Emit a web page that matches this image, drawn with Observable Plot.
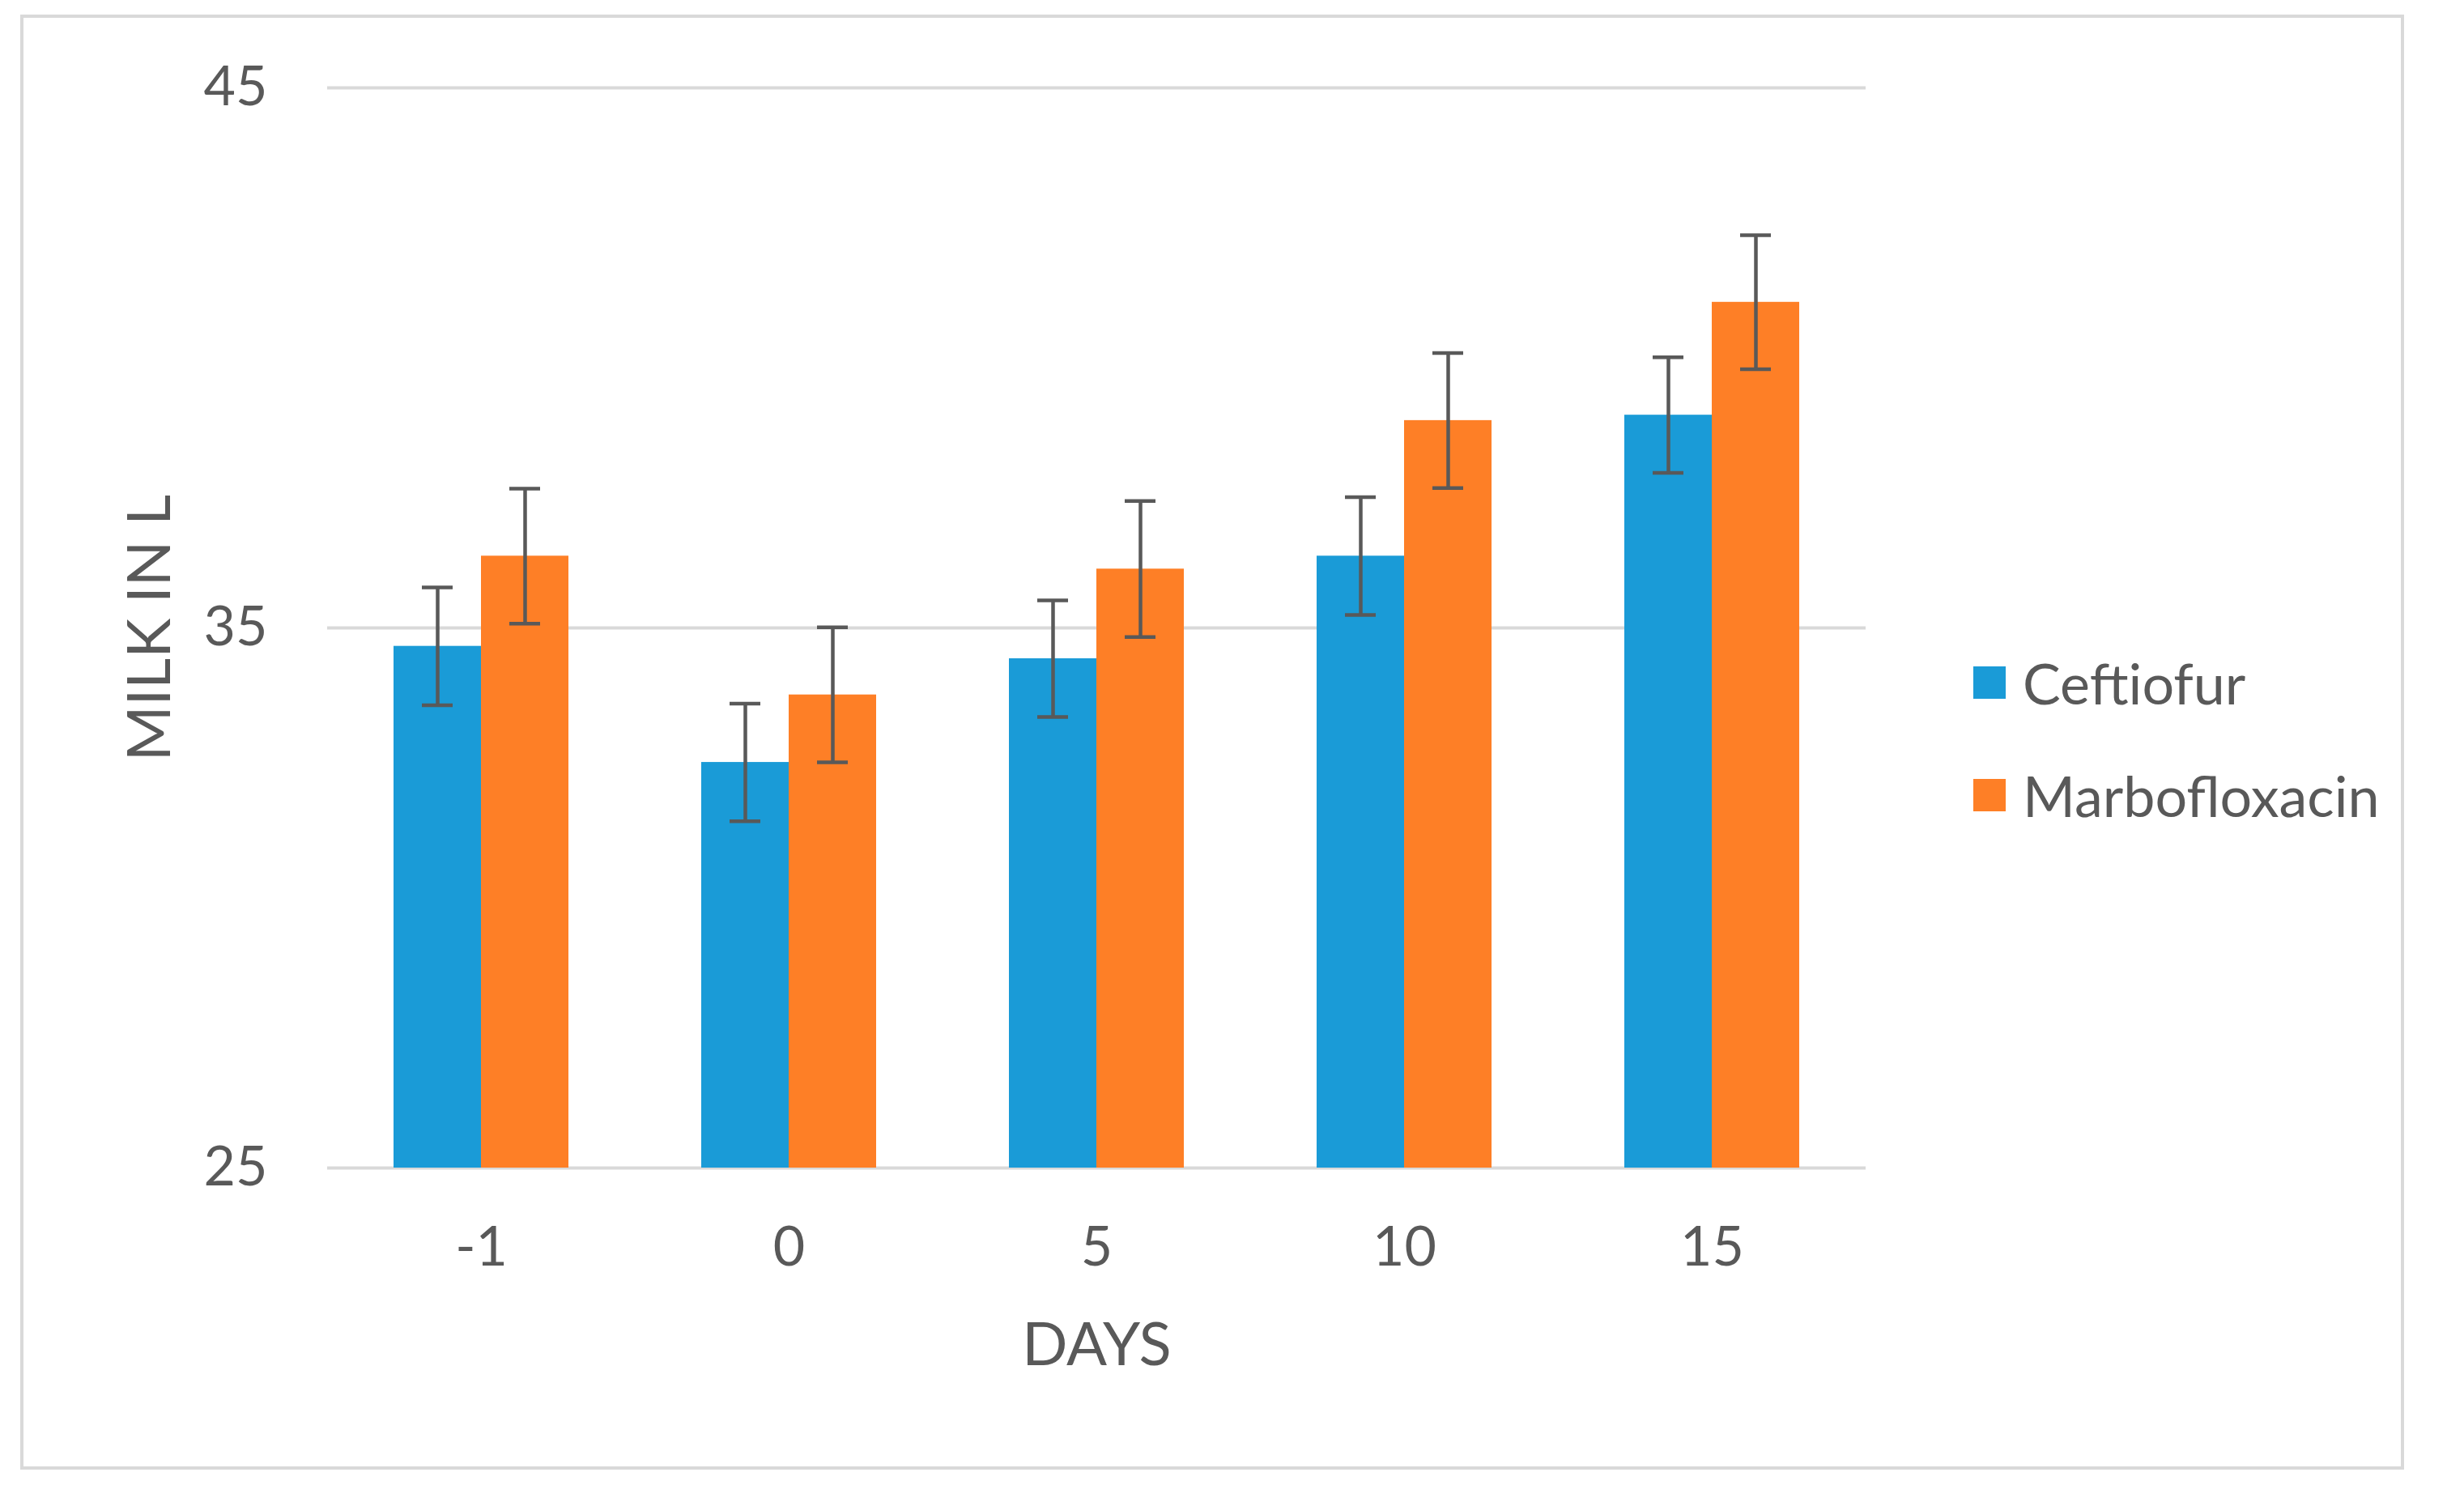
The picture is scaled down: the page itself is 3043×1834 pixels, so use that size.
<!DOCTYPE html>
<html>
<head>
<meta charset="utf-8">
<script src="https://cdn.jsdelivr.net/npm/d3@7"></script>
<script src="https://cdn.jsdelivr.net/npm/@observablehq/plot@0.6"></script>
<style>
  html, body { margin: 0; padding: 0; background: #fff; }
  body { width: 3043px; height: 1834px; position: relative; overflow: hidden; font-family: Lato, "Open Sans", sans-serif; }
  #frame { position: absolute; left: 25px; top: 18px; width: 2936px; height: 1789px; border: 4px solid #d9d9d9; box-sizing: content-box; }
  #chart { position: absolute; left: 112px; top: 0px; }
  #legend { position: absolute; left: 2437px; top: 0; color: #595959; font-size: 70px; }
  .item { position: absolute; left: 0; display: flex; align-items: center; white-space: nowrap; height: 80px; }
  .sw { width: 40px; height: 40px; margin-right: 21px; }
  g[aria-label="fx-axis label"], g[aria-label="y-axis label"] { font-size: 74px; }
</style>
</head>
<body>
<div id="frame"></div>
<div id="chart"></div>
<div id="legend"></div>
<script>
const days = ["-1", "0", "5", "10", "15"];
const series = ["Ceftiofur", "Marbofloxacin"];
const ceftiofurMean = [34.66, 32.51, 34.43, 36.33, 38.94];
const marbofloxacinMean = [36.33, 33.76, 36.09, 38.84, 41.03];
const ceftiofurSE = [1.09, 1.09, 1.08, 1.09, 1.07];
const marbofloxacinSE = [1.25, 1.25, 1.26, 1.25, 1.24];
const yTicks = [25, 35, 45];
const yDomain = [25, 45];
const colors = ["#1A9BD7", "#FE7F26"];

const data = [];
days.forEach((d, i) => {
  data.push({day: d, series: series[0], mean: ceftiofurMean[i], se: ceftiofurSE[i]});
  data.push({day: d, series: series[1], mean: marbofloxacinMean[i], se: marbofloxacinSE[i]});
});

const chart = Plot.plot({
  width: 2288,
  height: 1728,
  marginLeft: 290,
  marginRight: 94,
  marginTop: 108,
  marginBottom: 286,
  style: {fontFamily: "Lato, 'Open Sans', sans-serif", fontSize: "68px", color: "#595959", background: "transparent"},
  fx: {domain: days, padding: 0, axis: "bottom", tickSize: 0, tickPadding: 72, label: "DAYS", labelAnchor: "center", labelOffset: 243},
  x: {domain: series, paddingInner: 0, paddingOuter: 0.756, axis: null},
  y: {domain: yDomain, ticks: yTicks, tickSize: 0, tickPadding: 74, label: "MILK IN L", labelAnchor: "center", labelArrow: false, labelOffset: 247},
  color: {domain: series, range: colors},
  marks: [
    Plot.ruleY(yTicks, {stroke: "#d9d9d9", strokeWidth: 4}),
    Plot.barY(data, {fx: "day", x: "series", y1: () => yDomain[0], y2: "mean", fill: "series"}),
    Plot.ruleX(data, {fx: "day", x: "series", y1: d => d.mean - d.se, y2: d => d.mean + d.se, stroke: "#595959", strokeWidth: 4.5}),
    Plot.tickY(data, {fx: "day", x: "series", y: d => d.mean - d.se, stroke: "#595959", strokeWidth: 4.5, insetLeft: 35, insetRight: 35}),
    Plot.tickY(data, {fx: "day", x: "series", y: d => d.mean + d.se, stroke: "#595959", strokeWidth: 4.5, insetLeft: 35, insetRight: 35})
  ]
});
document.getElementById("chart").appendChild(chart);

const legend = document.getElementById("legend");
const rowCenters = [843, 982];
series.forEach((s, i) => {
  const item = document.createElement("div");
  item.className = "item";
  item.style.top = (rowCenters[i] - 40) + "px";
  const sw = document.createElement("div");
  sw.className = "sw";
  sw.style.background = colors[i];
  const t = document.createElement("span");
  t.textContent = s;
  item.appendChild(sw);
  item.appendChild(t);
  legend.appendChild(item);
});
</script>
</body>
</html>
